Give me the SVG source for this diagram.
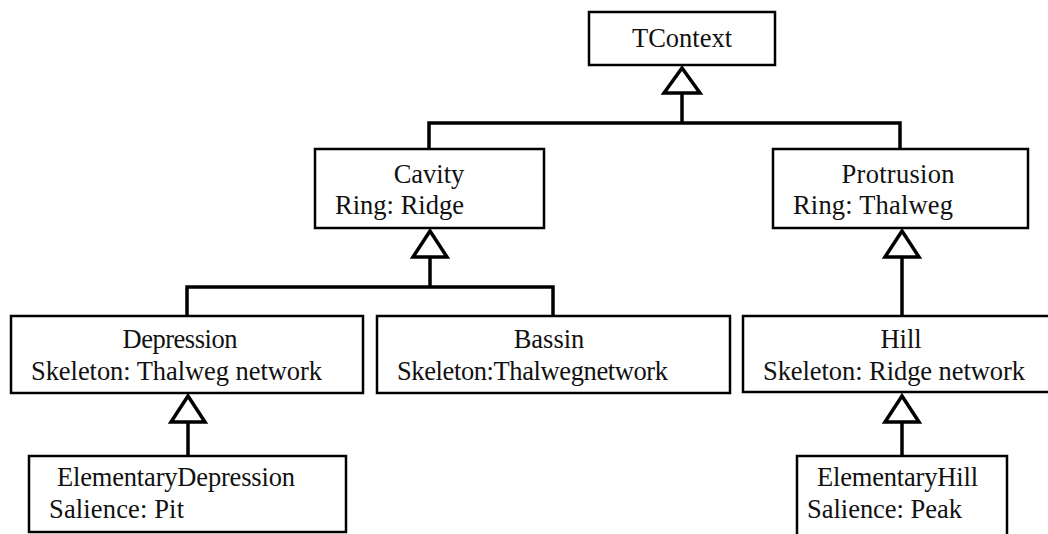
<svg xmlns="http://www.w3.org/2000/svg" width="1048" height="534" viewBox="0 0 1048 534">
<style>
.box{fill:#fff;stroke:#000;stroke-width:2.5}
.t{font-family:"Liberation Serif","DejaVu Serif",serif;font-size:26.5px;fill:#111}
.c{text-anchor:middle}
.ln{fill:none;stroke:#000;stroke-width:3.5}
.tri{fill:#fff;stroke:#000;stroke-width:3.5;stroke-linejoin:miter}
</style>
<rect width="1048" height="534" fill="#fff"/>
<g id="connectors">
<polyline class="ln" points="429,149 429,123 900,123 900,149"/>
<line class="ln" x1="682" y1="123" x2="682" y2="93"/>
<polygon class="tri" points="682,68 664,93 700,93"/>
<polyline class="ln" points="187,316 187,287 553,287 553,316"/>
<line class="ln" x1="430" y1="287" x2="430" y2="257"/>
<polygon class="tri" points="430,231 413,257 447,257"/>
<line class="ln" x1="902" y1="316" x2="902" y2="257"/>
<polygon class="tri" points="902,231 885,257 919,257"/>
<line class="ln" x1="188" y1="456" x2="188" y2="422"/>
<polygon class="tri" points="188,396 171,422 205,422"/>
<line class="ln" x1="902" y1="456" x2="902" y2="422"/>
<polygon class="tri" points="902,396 885,422 919,422"/>
</g>
<g id="TContext"><rect class="box" x="589" y="12" width="186" height="53"/><text class="t c" x="682" y="47" textLength="100">TContext</text></g>
<g id="Cavity"><rect class="box" x="315" y="149" width="229" height="79"/><text class="t c" x="429" y="183">Cavity</text><text class="t" x="335" y="214" textLength="129">Ring: Ridge</text></g>
<g id="Protrusion"><rect class="box" x="773" y="149" width="255" height="79"/><text class="t c" x="898" y="183" textLength="113">Protrusion</text><text class="t" x="793" y="214" textLength="160">Ring: Thalweg</text></g>
<g id="Depression"><rect class="box" x="11" y="316" width="352" height="77"/><text class="t c" x="180" y="348" textLength="115">Depression</text><text class="t" x="31" y="380" textLength="291">Skeleton: Thalweg network</text></g>
<g id="Bassin"><rect class="box" x="377" y="316" width="353" height="77"/><text class="t c" x="549" y="348">Bassin</text><text class="t" x="397" y="380" textLength="271">Skeleton:Thalwegnetwork</text></g>
<g id="Hill"><rect class="box" x="743" y="316" width="310" height="76"/><text class="t c" x="901" y="348">Hill</text><text class="t" x="763" y="380" textLength="262">Skeleton: Ridge network</text></g>
<g id="ElementaryDepression"><rect class="box" x="29" y="456" width="317" height="76"/><text class="t" x="57" y="486" textLength="238">ElementaryDepression</text><text class="t" x="49" y="518" textLength="135">Salience: Pit</text></g>
<g id="ElementaryHill"><rect class="box" x="797" y="456" width="210" height="90"/><text class="t" x="817" y="486" textLength="161">ElementaryHill</text><text class="t" x="807" y="518" textLength="155">Salience: Peak</text></g>
</svg>
